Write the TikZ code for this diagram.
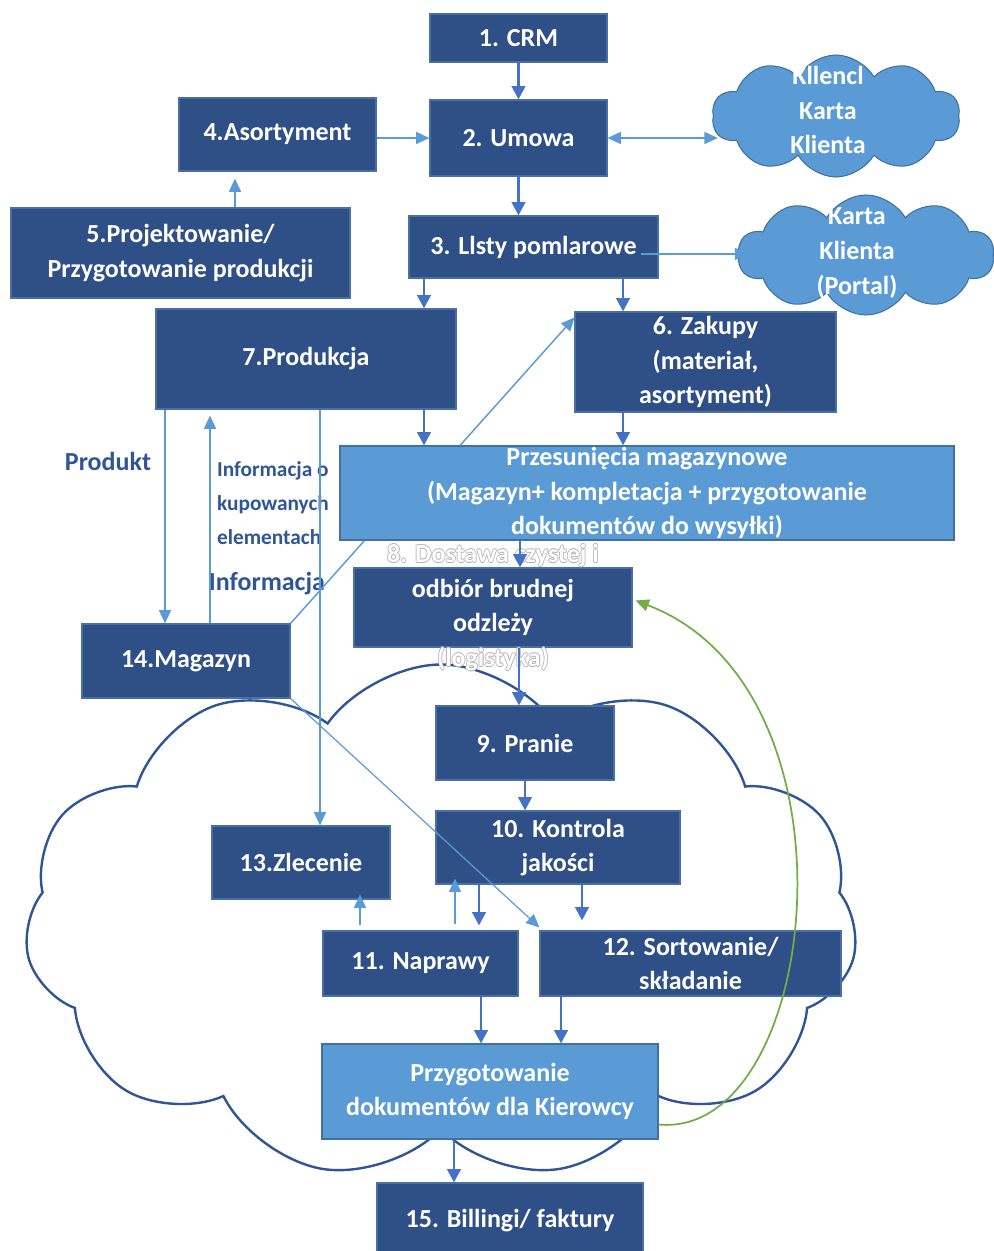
\documentclass[tikz,border=0pt]{standalone}
\usepackage{fontspec}
\setmainfont{Carlito}
\usepackage{tikz}
\usetikzlibrary{shapes.symbols, arrows.meta, positioning}

\definecolor{boxdark}{HTML}{2F5087}
\definecolor{boxedge}{HTML}{4A6FA5}
\definecolor{boxlight}{HTML}{5B9BD5}
\definecolor{lightedge}{HTML}{41719C}
\definecolor{darkarrow}{HTML}{4472C4}
\definecolor{lightarrow}{HTML}{5B9BD5}
\definecolor{labelblue}{HTML}{2F5597}
\definecolor{cloudline}{HTML}{2F5597}
\definecolor{greenline}{HTML}{70AD47}
\definecolor{ghostedge}{HTML}{B0B0B0}

\newcommand{\boxfont}{\fontsize{19.5}{26}\selectfont\bfseries}
\newcommand{\notefont}{\fontsize{16}{25.5}\selectfont\bfseries}
% white letters with a thin grey rim
\newcommand{\hollow}[1]{\leavevmode%
  \rlap{\kern-0.6pt\textcolor{ghostedge}{#1}}%
  \rlap{\kern0.6pt\textcolor{ghostedge}{#1}}%
  \rlap{\raisebox{0.6pt}{\textcolor{ghostedge}{#1}}}%
  \rlap{\raisebox{-0.6pt}{\textcolor{ghostedge}{#1}}}%
  \textcolor{white}{#1}}

\tikzstyle{darkbox} = [rectangle, draw=boxedge, line width=0.8pt, fill=boxdark, text=white, align=center, inner sep=0pt, font=\boxfont]
\tikzstyle{lightbox} = [darkbox, fill=boxlight, draw=lightedge]
\tikzstyle{boxtext} = [text=white, align=center, inner sep=0pt, font=\boxfont]
\tikzstyle{cloudbox} = [cloud, cloud puffs=10, cloud puff arc=120, draw=lightedge, line width=0.8pt, fill=boxlight, inner sep=0pt]
\tikzstyle{note} = [text=labelblue, align=left, inner sep=0pt, font=\boxfont]
\tikzstyle{bigflow} = [-{Triangle[length=10pt,width=10pt]}, draw=darkarrow, line width=2.2pt]
\tikzstyle{thinflow} = [-{Triangle[length=10pt,width=9pt]}, draw=lightarrow, line width=1.1pt]
\tikzstyle{thinboth} = [thinflow, {Triangle[length=10pt,width=9pt]}-{Triangle[length=10pt,width=9pt]}]
\tikzstyle{greenflow} = [-{Triangle[length=10pt,width=9pt]}, draw=greenline, line width=1.3pt]
\tikzset{wh/.style 2 args={minimum width=#1*0.75pt, minimum height=#2*0.75pt}}

\begin{document}
\begin{tikzpicture}[x=0.75pt, y=-0.75pt]
\useasboundingbox (0,0) rectangle (994,1251);

% outline cloud round the laundry part
\node[cloud, cloud puffs=11, cloud puff arc=110, aspect=1.6, draw=cloudline, line width=1.8pt, inner sep=0pt, wh={833}{515}] (chmura) at (441,922) {};

% top part
\node[darkbox, wh={177}{48}] (crm) at (518.5,38) {1. CRM};
\node[darkbox, wh={177}{76}] (umowa) at (518.5,138) {2. Umowa};
\node[darkbox, wh={197}{73}] (asort) at (277.5,134.5) {4.Asortyment};
\node[darkbox, wh={339}{90}] (projekt) at (180.5,253) {5.Projektowanie/\\Przygotowanie produkcji};
\node[darkbox, wh={249}{62}] (listy) at (533.5,247) {3. Llsty pomlarowe};
\node[cloudbox, wh={248}{122}, label={[boxtext, shift={(-8,-6)}]center:{Kllencl\\Karta\\Klienta}}] (klienci) at (836,116) {};
\node[cloudbox, wh={256}{120}, label={[boxtext, shift={(-9,-2)}]center:{Karta\\Klienta\\(Portal)}}] (portal) at (866,255) {};

% production and purchase
\node[darkbox, wh={300}{100}] (produkcja) at (306,359) {7.Produkcja};
\node[darkbox, wh={261}{100}] (zakupy) at (705.5,362) {6. Zakupy\\(materiał,\\asortyment)};
\node[lightbox, wh={614}{94}] (przesun) at (647,493) {Przesunięcia magazynowe\\(Magazyn+ kompletacja + przygotowanie\\dokumentów do wysyłki)};
\node[darkbox, wh={278}{79}, label={[boxtext]center:{\hollow{8. Dostawa czystej i}\\odbiór brudnej\\odzleży\\\hollow{(logistyka)}}}] (dostawa) at (493,607.5) {};
\node[darkbox, wh={208}{74}] (magazyn) at (186,661) {14.Magazyn};

% laundry steps
\node[darkbox, wh={178}{74}] (pranie) at (525,743) {9. Pranie};
\node[darkbox, wh={244}{73}] (kontrola) at (558,847.5) {10. Kontrola\\jakości};
\node[darkbox, wh={178}{73}] (zlecenie) at (301,862.5) {13.Zlecenie};
\node[darkbox, wh={195}{65}] (naprawy) at (420.5,963.5) {11. Naprawy};
\node[darkbox, wh={301}{65}] (sortow) at (690.5,963.5) {12. Sortowanie/\\składanie};
\node[lightbox, wh={336}{95}] (dokum) at (490,1091.5) {Przygotowanie\\dokumentów dla Kierowcy};
\node[darkbox, wh={266}{76}] (billing) at (510,1221) {15. Billingi/ faktury};

% side labels
\node[note] (produkt) at (108,461) {Produkt};
\node[note, font=\notefont] (infozak) at (273,503) {Informacja o\\kupowanych\\elementach};
\node[note] (info) at (267,584) {Informacja};

% main flow
\draw[bigflow] (crm) -- (umowa);
\draw[bigflow] (umowa.south) -- (umowa.south |- listy.north);
\draw[bigflow] ([shift={(118,0)}]produkcja.north |- listy.south) -- ([shift={(118,0)}]produkcja.north);
\draw[bigflow] ([shift={(-82.5,0)}]zakupy.north |- listy.south) -- ([shift={(-82.5,0)}]zakupy.north);
\draw[bigflow] ([shift={(118,0)}]produkcja.south) -- ([shift={(118,0)}]produkcja.south |- przesun.north);
\draw[bigflow] ([shift={(-82.5,0)}]zakupy.south) -- ([shift={(-82.5,0)}]zakupy.south |- przesun.north);
\draw[bigflow] ([shift={(27,0)}]dostawa.north |- przesun.south) -- ([shift={(27,0)}]dostawa.north);
\draw[bigflow] ([shift={(-6,0)}]pranie.north |- dostawa.south) -- ([shift={(-6,0)}]pranie.north);
\draw[bigflow] (pranie.south) -- (pranie.south |- kontrola.north);
\draw[bigflow] ([shift={(-79,0)}]kontrola.south) -- ([shift={(-79,-5)}]kontrola.south |- naprawy.north);
\draw[bigflow] ([shift={(24,0)}]kontrola.south) -- ([shift={(24,-10)}]kontrola.south |- sortow.north);
\draw[bigflow] ([shift={(60.5,0)}]naprawy.south) -- ([shift={(60.5,0)}]naprawy.south |- dokum.north);
\draw[bigflow] ([shift={(-129.5,0)}]sortow.south) -- ([shift={(-129.5,0)}]sortow.south |- dokum.north);
\draw[bigflow] ([shift={(-36,0)}]dokum.south) -- ([shift={(-36,0)}]dokum.south |- billing.north);

% thin links
\draw[thinboth] (umowa.east) -- ([shift={(5,0)}]umowa.east -| klienci.west);
\draw[thinflow] (asort.east |- umowa.west) -- (umowa.west);
\draw[thinflow] ([shift={(-42.5,0)}]asort.south |- projekt.north) -- ([shift={(-42.5,7)}]asort.south);
\draw[thinflow] ([shift={(-18,7)}]listy.east) -- ([shift={(10,7)}]listy.east -| portal.west);
\draw[thinflow] ([shift={(-187,0)}]przesun.north) -- ([shift={(0,6)}]zakupy.north west);
\draw[thinflow] ([shift={(-141,0)}]produkcja.south) -- ([shift={(-141,0)}]produkcja.south |- magazyn.north);
\draw[thinflow] ([shift={(24,0)}]magazyn.north) -- ([shift={(24,6)}]magazyn.north |- produkcja.south);
\draw[thinflow] ([shift={(14,0)}]produkcja.south) -- ([shift={(14,0)}]produkcja.south |- zlecenie.north);
\draw[draw=lightarrow, line width=1.1pt] (magazyn.north east) -- ([shift={(25,0)}]przesun.south west);
\draw[thinflow, line width=0.9pt] (magazyn.south east) -- ([shift={(0,-3)}]sortow.north west);
\draw[thinflow] ([shift={(34.5,-6)}]naprawy.north) -- ([shift={(34.5,-6)}]naprawy.north |- kontrola.south);
\draw[thinflow] ([shift={(-60.5,-5)}]naprawy.north) -- ([shift={(-60.5,-5)}]naprawy.north |- zlecenie.south);

% return to delivery
\draw[greenflow] ([shift={(0,33)}]dokum.east) .. controls (820,1140) and (870,690) .. ([shift={(3,-7)}]dostawa.east);

\end{tikzpicture}
\end{document}
